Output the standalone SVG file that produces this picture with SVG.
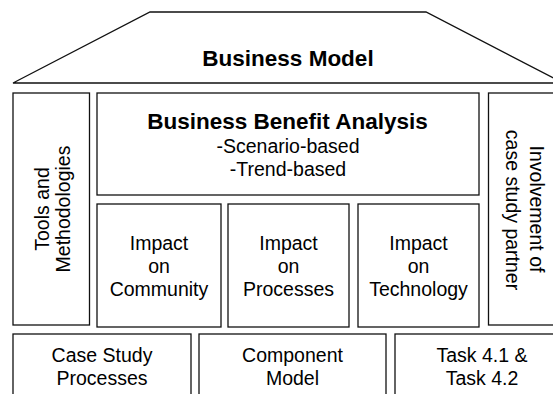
<svg xmlns="http://www.w3.org/2000/svg" width="553" height="394" viewBox="0 0 553 394">
  <style>
    .box { fill: #ffffff; stroke: #111111; stroke-width: 1.3; }
    .t { font-family: "Liberation Sans", Arial, sans-serif; font-size: 19.5px; fill: #000000; text-anchor: middle; }
    .b { font-weight: bold; font-size: 22.5px; }
  </style>
  <rect x="0" y="0" width="553" height="394" fill="#ffffff"/>

  <!-- roof -->
  <g id="business-model">
    <path class="box" d="M13 83 L150 12 L426 12 L563 83 Z"/>
    <text class="t b" x="288" y="66">Business Model</text>
  </g>

  <!-- left pillar -->
  <g id="tools-methodologies">
    <rect class="box" x="13" y="93" width="76.5" height="232"/>
    <text class="t" transform="translate(0 209) rotate(-90)" x="0" y="48.5">Tools and</text>
    <text class="t" transform="translate(0 209) rotate(-90)" x="0" y="70">Methodologies</text>
  </g>

  <!-- right pillar -->
  <g id="case-study-partner">
    <rect class="box" x="488.5" y="93" width="80" height="232"/>
    <text class="t" transform="rotate(90)" x="209" y="-530">Involvement of</text>
    <text class="t" transform="rotate(90)" x="210" y="-506">case study partner</text>
  </g>

  <!-- central analysis block -->
  <g id="business-benefit-analysis">
    <rect class="box" x="97" y="93" width="382" height="102"/>
    <text class="t b" x="287.5" y="129">Business Benefit Analysis</text>
    <text class="t" x="288" y="153">-Scenario-based</text>
    <text class="t" x="288" y="175.5">-Trend-based</text>
  </g>

  <g id="impact-community">
    <rect class="box" x="97" y="204" width="124" height="123"/>
    <text class="t" x="159" y="250">Impact</text>
    <text class="t" x="159" y="273">on</text>
    <text class="t" x="159" y="296">Community</text>
  </g>

  <g id="impact-processes">
    <rect class="box" x="228" y="204" width="121" height="123"/>
    <text class="t" x="288.5" y="250">Impact</text>
    <text class="t" x="288.5" y="273">on</text>
    <text class="t" x="288.5" y="296">Processes</text>
  </g>

  <g id="impact-technology">
    <rect class="box" x="358" y="204" width="121" height="123"/>
    <text class="t" x="418.5" y="250">Impact</text>
    <text class="t" x="418.5" y="273">on</text>
    <text class="t" x="418.5" y="296">Technology</text>
  </g>

  <!-- foundation row -->
  <g id="case-study-processes">
    <rect class="box" x="13" y="334" width="178" height="80"/>
    <text class="t" x="102" y="362">Case Study</text>
    <text class="t" x="102" y="385">Processes</text>
  </g>

  <g id="component-model">
    <rect class="box" x="199" y="334" width="187" height="80"/>
    <text class="t" x="292.5" y="362">Component</text>
    <text class="t" x="292.5" y="385">Model</text>
  </g>

  <g id="tasks">
    <rect class="box" x="395" y="334" width="175" height="80"/>
    <text class="t" x="482" y="362">Task 4.1 &amp;</text>
    <text class="t" x="482" y="385">Task 4.2</text>
  </g>

  <g id="connectors"/>
</svg>
